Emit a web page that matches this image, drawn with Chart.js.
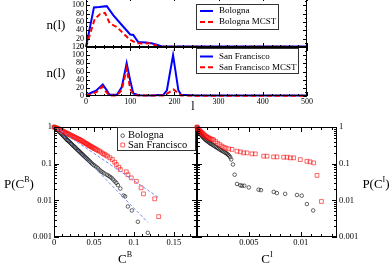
<!DOCTYPE html>
<html>
<head>
<meta charset="utf-8">
<script src="https://cdn.jsdelivr.net/npm/chart.js@4.4.0/dist/chart.umd.min.js"></script>
<style>
  body { margin: 0; background: #fff; }
  #wrap { position: relative; width: 390px; height: 264px; overflow: hidden; background: #fff;
          font-family: "Liberation Serif", "Times New Roman", serif; color: #000; }
  canvas { position: absolute; left: 0; }
  .lab { position: absolute; font-size: 13px; line-height: 1; white-space: nowrap; transform: translate(-50%, -50%); }
  .lab sup { font-size: 8px; vertical-align: 0; position: relative; top: -6px; }
</style>
</head>
<body>
<div id="wrap">
  <canvas id="bol" width="390" height="268" style="top:-4px"></canvas>
  <canvas id="sf" width="390" height="264" style="top:0"></canvas>
  <canvas id="cb" width="390" height="264" style="top:0"></canvas>
  <canvas id="ci" width="390" height="264" style="top:0"></canvas>
  <div class="lab" style="left:56px;top:24px">n(l)</div>
  <div class="lab" style="left:56px;top:72px">n(l)</div>
  <div class="lab" style="left:193px;top:106px;font-size:12px">l</div>
  <div class="lab" style="left:19px;top:183px">P(C<sup>B</sup>)</div>
  <div class="lab" style="left:125px;top:258px">C<sup>B</sup></div>
  <div class="lab" style="left:267px;top:258px">C<sup>I</sup></div>
  <div class="lab" style="left:376px;top:183px">P(C<sup>I</sup>)</div>
</div>
<script>
// distance distributions n(l)
const lTicks = [0, 100, 200, 300, 400, 500];
const nTicksTop = [0, 20, 40, 60, 80, 100];
const nTicksBot = [0, 20, 40, 60, 80, 100, 120];

const bolL = [0, 18, 30, 47, 62, 80, 100, 107, 118, 135, 148, 162, 172, 200, 250, 300, 400, 500];
const bolN = [0, 95, 96, 98, 76, 54, 30, 29, 12, 11, 9, 5, 1.5, 1.5, 1, 1, 1, 1];
const bolMcstL = [0, 20, 32, 43, 54, 70, 85, 100, 115, 130, 145, 160, 172, 200, 300, 500];
const bolMcstN = [0, 68, 79, 82, 56, 48, 32, 17, 9, 8, 9, 3, 1, 0.5, 0.5, 0.5];

const sfL = [0, 12, 24, 38, 47, 53, 70, 81, 92, 100, 107, 120, 150, 175, 183, 197, 209, 215, 250, 300, 400, 500];
const sfN = [2, 8, 14, 28, 14, 3, 3, 22, 80, 38, 6, 2, 1, 3, 14, 100, 14, 3, 1, 1, 1, 1];
const sfMcstL = [0, 12, 24, 37, 47, 53, 70, 81, 92, 100, 107, 120, 175, 187, 198, 207, 215, 300, 500];
const sfMcstN = [1, 4, 10, 23, 8, 1, 1, 15, 67, 18, 3, 1, 1, 8, 16, 8, 1, 0.5, 0.5];

// cumulative distributions P(C)
const pTicks = [0.001, 0.01, 0.1, 1];
const cbTicks = [0, 0.05, 0.1, 0.15];
const ciTicks = [0, 0.005, 0.01];
const ciLabels = [0.005, 0.01];

const cbBolX = [0, 0.001, 0.0021, 0.003, 0.0041, 0.005, 0.0062, 0.0071, 0.0083, 0.0092, 0.0104, 0.0113, 0.0125, 0.0135,
  0.0146, 0.0157, 0.0167, 0.0178, 0.0189, 0.0199, 0.0211, 0.0222, 0.0232, 0.0244, 0.0255, 0.0266, 0.0277, 0.0289, 0.0301,
  0.0312, 0.0324, 0.0336, 0.0348, 0.036, 0.0372, 0.0384, 0.0397, 0.041, 0.0423, 0.0436, 0.045, 0.0464, 0.0478, 0.0493,
  0.0508, 0.053, 0.055, 0.057, 0.059, 0.061, 0.063, 0.066, 0.068, 0.070, 0.072, 0.074, 0.076, 0.078, 0.080, 0.083, 0.087,
  0.089, 0.0925, 0.0975, 0.105, 0.1175];
const cbBolY = [1, 0.96, 0.92, 0.88, 0.84, 0.81, 0.76, 0.72, 0.68, 0.65, 0.61, 0.58, 0.55, 0.52,
  0.49, 0.46, 0.44, 0.42, 0.40, 0.38, 0.36, 0.34, 0.32, 0.305, 0.29, 0.275, 0.26, 0.245, 0.232,
  0.22, 0.208, 0.196, 0.185, 0.175, 0.165, 0.156, 0.147, 0.138, 0.13, 0.122, 0.114, 0.106, 0.099, 0.093,
  0.088, 0.082, 0.075, 0.068, 0.062, 0.058, 0.054, 0.05, 0.047, 0.044, 0.041, 0.037, 0.033, 0.03, 0.026, 0.021, 0.0135,
  0.0128, 0.0068, 0.0053, 0.0026, 0.0013];
const cbSfX = [0, 0.0012, 0.0024, 0.0036, 0.0048, 0.006, 0.0072, 0.0084, 0.0096, 0.0108, 0.012, 0.0132, 0.0144, 0.0156,
  0.0168, 0.018, 0.0192, 0.0204, 0.0216, 0.0228, 0.024, 0.0252, 0.0264, 0.0276, 0.0288, 0.030, 0.0312, 0.0324, 0.0336,
  0.0348, 0.036, 0.0372, 0.0384, 0.0396, 0.0408, 0.042, 0.0432, 0.0444, 0.0456, 0.0468, 0.048, 0.0492, 0.0505, 0.052,
  0.0535, 0.055, 0.057, 0.059, 0.061, 0.063, 0.065, 0.067, 0.070, 0.073, 0.076, 0.078, 0.081, 0.083, 0.0905, 0.0925,
  0.0967, 0.103, 0.109, 0.112, 0.126, 0.131];
const cbSfY = [1, 0.98, 0.95, 0.93, 0.91, 0.88, 0.86, 0.83, 0.80, 0.77, 0.75, 0.72, 0.70, 0.68,
  0.66, 0.64, 0.62, 0.60, 0.58, 0.57, 0.55, 0.53, 0.52, 0.50, 0.49, 0.47, 0.46, 0.45, 0.43,
  0.42, 0.40, 0.39, 0.37, 0.36, 0.35, 0.335, 0.32, 0.31, 0.30, 0.29, 0.28, 0.27, 0.26, 0.25,
  0.24, 0.23, 0.22, 0.205, 0.19, 0.18, 0.17, 0.16, 0.145, 0.13, 0.11, 0.095, 0.08, 0.069, 0.06, 0.05,
  0.041, 0.033, 0.022, 0.015, 0.011, 0.0036];
const cbBolFitX = [0.003, 0.1175];
const cbBolFitY = [0.9, 0.0025];
const cbSfFitX = [0.003, 0.132];
const cbSfFitY = [0.95, 0.0115];

const ciBolX = [0, 0.00004, 0.00008, 0.00013, 0.00018, 0.00024, 0.0003, 0.00037, 0.00044, 0.00052, 0.0006, 0.00068,
  0.00077, 0.00086, 0.00095, 0.00105, 0.00115, 0.00125, 0.00136, 0.00147, 0.00158, 0.0017, 0.00182, 0.00194, 0.00206,
  0.00218, 0.0023, 0.00242, 0.00254, 0.00266, 0.00278, 0.0029, 0.003, 0.0031, 0.0032, 0.0033, 0.00347, 0.00363, 0.00386,
  0.00418, 0.00434, 0.00456, 0.005, 0.00594, 0.00617, 0.0074, 0.0077, 0.0085, 0.00964, 0.0101, 0.0106, 0.0112];
const ciBolY = [1, 0.92, 0.85, 0.79, 0.74, 0.70, 0.66, 0.62, 0.58, 0.55, 0.52, 0.49,
  0.46, 0.44, 0.42, 0.40, 0.38, 0.36, 0.345, 0.33, 0.315, 0.30, 0.285, 0.27, 0.258,
  0.246, 0.235, 0.224, 0.214, 0.204, 0.195, 0.186, 0.175, 0.165, 0.15, 0.13, 0.095, 0.05, 0.028,
  0.0257, 0.025, 0.025, 0.0225, 0.0195, 0.019, 0.017, 0.0158, 0.015, 0.014, 0.0134, 0.0079, 0.0053];
const ciSfX = [0, 0.00005, 0.0001, 0.00016, 0.00022, 0.00028, 0.00035, 0.00042, 0.0005, 0.00058, 0.00066, 0.00075,
  0.00084, 0.00093, 0.00103, 0.00113, 0.00124, 0.00135, 0.00147, 0.0016, 0.0018, 0.002, 0.0022, 0.0024, 0.0026, 0.0028,
  0.00305, 0.00337, 0.00386, 0.00418, 0.0045, 0.00482, 0.0053, 0.00562, 0.00643, 0.00675, 0.00739, 0.00771, 0.00836,
  0.00868, 0.009, 0.00932, 0.00996, 0.0106, 0.0109, 0.01125, 0.01157, 0.012];
const ciSfY = [1, 0.95, 0.90, 0.86, 0.82, 0.78, 0.74, 0.71, 0.68, 0.65, 0.62, 0.59,
  0.56, 0.54, 0.52, 0.50, 0.48, 0.47, 0.46, 0.44, 0.40, 0.36, 0.33, 0.30, 0.28, 0.265,
  0.254, 0.245, 0.219, 0.21, 0.197, 0.197, 0.185, 0.185, 0.16, 0.16, 0.153, 0.153, 0.15,
  0.15, 0.144, 0.144, 0.129, 0.116, 0.112, 0.105, 0.048, 0.0093];

const serif = '"Liberation Serif", "Times New Roman", serif';
const pts = (xs, ys) => xs.map((x, i) => ({ x, y: ys[i] }));

// box + inward tick marks on all four sides (Grace style)
const frame = {
  id: 'frame',
  afterDatasetsDraw(chart, args, o) {
    const { ctx, chartArea: a } = chart;
    const sx = chart.scales.x, sy = chart.scales.y;
    ctx.save();
    ctx.strokeStyle = '#000';
    ctx.lineWidth = 1;
    ctx.beginPath();
    const markX = (v, len) => {
      const p = Math.round(sx.getPixelForValue(v)) + 0.5;
      ctx.moveTo(p, a.bottom); ctx.lineTo(p, a.bottom - len);
      ctx.moveTo(p, a.top); ctx.lineTo(p, a.top + len);
    };
    const markY = (v, len) => {
      const p = Math.round(sy.getPixelForValue(v)) + 0.5;
      ctx.moveTo(a.left, p); ctx.lineTo(a.left + len, p);
      ctx.moveTo(a.right, p); ctx.lineTo(a.right - len, p);
    };
    const linMinor = (s, step, mark) => {
      for (let n = Math.ceil(s.min / step - 1e-9); n * step <= s.max + 1e-12; n++) {
        const v = n * step;
        if (!s.ticks.some(t => Math.abs(t.value - v) < step / 10)) mark(v, o.minor);
      }
    };
    sx.ticks.forEach(t => markX(t.value, o.major));
    sy.ticks.forEach(t => markY(t.value, o.major));
    linMinor(sx, o.xMinor, markX);
    if (o.yLog) {
      for (let e = -3; e < 0; e++) for (let k = 2; k <= 9; k++) markY(k * Math.pow(10, e), o.minor);
    } else {
      linMinor(sy, o.yMinor, markY);
    }
    ctx.stroke();
    ctx.strokeRect(a.left + 0.5, a.top + 0.5, a.right - a.left - 1, a.bottom - a.top - 1);
    ctx.restore();
  }
};

// boxed legend inside the plot
const boxLegend = {
  id: 'boxLegend',
  afterDraw(chart, args, o) {
    if (!o.rows || !o.rows.length) return;
    const ctx = chart.ctx;
    ctx.save();
    ctx.fillStyle = '#fff';
    ctx.fillRect(o.x, o.y, o.w, o.h);
    ctx.strokeStyle = '#333';
    ctx.lineWidth = 1;
    ctx.strokeRect(o.x + 0.5, o.y + 0.5, o.w, o.h);
    ctx.font = o.font;
    ctx.textBaseline = 'middle';
    o.rows.forEach((i, k) => {
      const ds = chart.data.datasets[i];
      const y = o.y + o.row0 + k * o.step;
      ctx.strokeStyle = ds.borderColor;
      ctx.lineWidth = ds.borderWidth;
      ctx.beginPath();
      if (ds.showLine) {
        ctx.setLineDash(ds.borderDash || []);
        ctx.moveTo(o.x + o.s0, y); ctx.lineTo(o.x + o.s1, y);
      } else if (ds.pointStyle === 'rect') {
        const h = ds.pointRadius * Math.SQRT1_2;
        ctx.rect(o.x + o.s0 - h, y - h, 2 * h, 2 * h);
      } else {
        ctx.arc(o.x + o.s0, y, ds.pointRadius, 0, Math.PI * 2);
      }
      ctx.stroke();
      ctx.setLineDash([]);
      ctx.fillStyle = '#000';
      ctx.fillText(ds.label, o.x + o.tx, y);
    });
    ctx.restore();
  }
};

function axis(o) {
  const vertical = o.pos === 'left' || o.pos === 'right';
  return {
    type: o.type || 'linear',
    position: o.pos,
    min: o.min,
    max: o.max,
    grid: { display: false, drawTicks: false },
    border: { display: false },
    ticks: {
      display: !!o.labels,
      color: '#000',
      font: { family: serif, size: o.size || 8 },
      padding: o.pad == null ? 2 : o.pad,
      maxRotation: 0,
      autoSkip: false,
      callback: v => (o.labels && o.labels.includes(v)) ? String(v) : ''
    },
    afterBuildTicks: s => { s.ticks = o.ticks.map(v => ({ value: v })); },
    afterFit: s => {
      if (vertical) s.width = o.space; else s.height = o.space;
      s.paddingLeft = s.paddingRight = s.paddingTop = s.paddingBottom = 0;
    }
  };
}

const lineSet = (label, xs, ys, color, dash, order) => ({
  label, data: pts(xs, ys), showLine: true, borderColor: color, borderWidth: 2, borderDash: dash,
  pointRadius: 0, tension: 0, order, clip: 2
});
const dotSet = (label, xs, ys, color, style, r, order) => ({
  label, data: pts(xs, ys), pointStyle: style, pointRadius: r, borderColor: color,
  backgroundColor: 'rgba(0,0,0,0)', borderWidth: 0.6, order, clip: 4
});
const fitSet = (xs, ys) => ({
  label: '', data: pts(xs, ys), showLine: true, borderColor: '#6c8cff', borderWidth: 1, borderDash: [3, 2],
  pointRadius: 0, order: 0
});

function build(id, datasets, o) {
  return new Chart(document.getElementById(id), {
    type: 'scatter',
    data: { datasets },
    options: {
      responsive: false,
      animation: false,
      events: [],
      layout: { padding: o.pad },
      plugins: { legend: { display: false }, tooltip: { enabled: false }, frame: o.frame, boxLegend: o.legend },
      scales: { x: o.x, y: o.y }
    },
    plugins: [frame, boxLegend]
  });
}

const topFrame = { major: 4, minor: 2, xMinor: 20, yMinor: 10 };
const legendLine = { mode: 'line', s0: 4, s1: 17, tx: 23, font: '9px ' + serif };

build('bol', [
  lineSet('Bologna', bolL, bolN, '#0000ff', [], 2),
  lineSet('Bologna MCST', bolMcstL, bolMcstN, '#ff0000', [5, 3], 1)
], {
  pad: { left: 56, right: 83, top: 1, bottom: 217 },
  x: axis({ pos: 'bottom', min: 0, max: 500, ticks: lTicks, space: 0 }),
  y: axis({ pos: 'left', min: 0, max: 120, ticks: nTicksTop, labels: nTicksTop, space: 30 }),
  frame: topFrame,
  legend: Object.assign({ x: 196, y: 8, w: 82, h: 25, rows: [0, 1], row0: 7, step: 11 }, legendLine)
});

build('sf', [
  lineSet('San Francisco', sfL, sfN, '#0000ff', [], 2),
  lineSet('San Francisco MCST', sfMcstL, sfMcstN, '#ff0000', [5, 3], 1)
], {
  pad: { left: 56, right: 83, top: 47, bottom: 154 },
  x: axis({ pos: 'bottom', min: 0, max: 500, ticks: lTicks, labels: lTicks, space: 14, pad: 1 }),
  y: axis({ pos: 'left', min: 0, max: 120, ticks: nTicksBot, labels: nTicksBot, space: 30 }),
  frame: topFrame,
  legend: Object.assign({ x: 196, y: 48, w: 102, h: 25, rows: [0, 1], row0: 8.5, step: 10.7 }, legendLine)
});

const botFrame = { major: 5, minor: 3, yLog: true };

build('cb', [
  fitSet(cbBolFitX, cbBolFitY),
  fitSet(cbSfFitX, cbSfFitY),
  dotSet('Bologna', cbBolX, cbBolY, '#000000', 'circle', 1.8, 2),
  dotSet('San Francisco', cbSfX, cbSfY, '#ff0000', 'rect', 2.7, 1)
], {
  pad: { left: 14, right: 193, top: 127, bottom: 13 },
  x: axis({ pos: 'bottom', min: 0, max: 0.179, ticks: cbTicks, labels: cbTicks, space: 14, pad: 1, size: 8.5 }),
  y: axis({ type: 'logarithmic', pos: 'left', min: 0.001, max: 1, ticks: pTicks, labels: pTicks, space: 40, size: 8.5 }),
  frame: Object.assign({ xMinor: 0.01 }, botFrame),
  legend: { x: 117, y: 127, w: 78, h: 23, rows: [2, 3], row0: 8.7, step: 9.3, mode: 'point', s0: 5.7, tx: 11,
            font: '10.5px ' + serif }
});

build('ci', [
  dotSet('Bologna', ciBolX, ciBolY, '#000000', 'circle', 1.8, 2),
  dotSet('San Francisco', ciSfX, ciSfY, '#ff0000', 'rect', 2.7, 1)
], {
  pad: { left: 197, right: 13, top: 127, bottom: 13 },
  x: axis({ pos: 'bottom', min: 0, max: 0.0135, ticks: ciTicks, labels: ciLabels, space: 14, pad: 1, size: 8.5 }),
  y: axis({ type: 'logarithmic', pos: 'right', min: 0.001, max: 1, ticks: pTicks, labels: pTicks, space: 40, size: 8.5 }),
  frame: Object.assign({ xMinor: 0.001 }, botFrame),
  legend: { rows: [] }
});
</script>
</body>
</html>
